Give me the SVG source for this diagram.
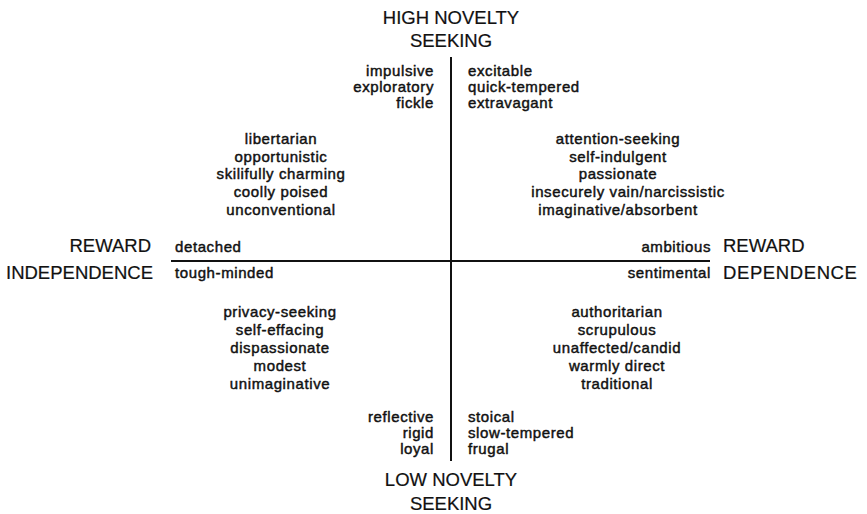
<svg xmlns="http://www.w3.org/2000/svg" width="867" height="514" viewBox="0 0 867 514">
<style>
.lbl{font-family:"Liberation Sans",Arial,sans-serif;font-size:18.5px;fill:#111;stroke:#111;stroke-width:0.2px}
.t{font-family:"Liberation Sans",Arial,sans-serif;font-size:15px;letter-spacing:0.6px;fill:#111;stroke:#111;stroke-width:0.45px}
.m{text-anchor:middle}
.e{text-anchor:end}
.ax{stroke:#111;stroke-width:2;fill:none}
</style>
<rect width="867" height="514" fill="#fff"/>
<g id="axes">
<line class="ax" x1="451" y1="57" x2="451" y2="461"/>
<line class="ax" x1="171" y1="261" x2="710" y2="261"/>
</g>
<g id="high-novelty">
<text class="lbl m" x="451" y="24">HIGH NOVELTY</text>
<text class="lbl m" x="451" y="47">SEEKING</text>
</g>
<g id="top-left">
<text class="t e" x="434" y="76">impulsive</text>
<text class="t e" x="434" y="92">exploratory</text>
<text class="t e" x="434" y="108">fickle</text>
</g>
<g id="top-right">
<text class="t" x="468" y="76">excitable</text>
<text class="t" x="468" y="92">quick-tempered</text>
<text class="t" x="468" y="108">extravagant</text>
</g>
<g id="upper-left">
<text class="t m" x="281" y="144">libertarian</text>
<text class="t m" x="281" y="162">opportunistic</text>
<text class="t m" x="281" y="179">skilifully charming</text>
<text class="t m" x="281" y="197">coolly poised</text>
<text class="t m" x="281" y="215">unconventional</text>
</g>
<g id="upper-right">
<text class="t m" x="618" y="144">attention-seeking</text>
<text class="t m" x="618" y="162">self-indulgent</text>
<text class="t m" x="618" y="179">passionate</text>
<text class="t m" x="628" y="197" letter-spacing="1px">insecurely vain/narcissistic</text>
<text class="t m" x="618" y="215">imaginative/absorbent</text>
</g>
<g id="reward-independence">
<text class="lbl e" x="151" y="252">REWARD</text>
<text class="lbl e" x="153" y="279">INDEPENDENCE</text>
<text class="t" x="175" y="252">detached</text>
<text class="t" x="175" y="278">tough-minded</text>
</g>
<g id="reward-dependence">
<text class="lbl" x="723" y="252">REWARD</text>
<text class="lbl" x="723" y="279" letter-spacing="0.6px">DEPENDENCE</text>
<text class="t e" x="711" y="252">ambitious</text>
<text class="t e" x="711" y="278">sentimental</text>
</g>
<g id="lower-left">
<text class="t m" x="280" y="317">privacy-seeking</text>
<text class="t m" x="280" y="335">self-effacing</text>
<text class="t m" x="280" y="353">dispassionate</text>
<text class="t m" x="280" y="371">modest</text>
<text class="t m" x="280" y="389">unimaginative</text>
</g>
<g id="lower-right">
<text class="t m" x="617" y="317">authoritarian</text>
<text class="t m" x="617" y="335">scrupulous</text>
<text class="t m" x="617" y="353">unaffected/candid</text>
<text class="t m" x="617" y="371">warmly direct</text>
<text class="t m" x="617" y="389">traditional</text>
</g>
<g id="bottom-left">
<text class="t e" x="434" y="422">reflective</text>
<text class="t e" x="434" y="438">rigid</text>
<text class="t e" x="434" y="454">loyal</text>
</g>
<g id="bottom-right">
<text class="t" x="468" y="422">stoical</text>
<text class="t" x="468" y="438">slow-tempered</text>
<text class="t" x="468" y="454">frugal</text>
</g>
<g id="low-novelty">
<text class="lbl m" x="451" y="486">LOW NOVELTY</text>
<text class="lbl m" x="451" y="510">SEEKING</text>
</g>
</svg>
